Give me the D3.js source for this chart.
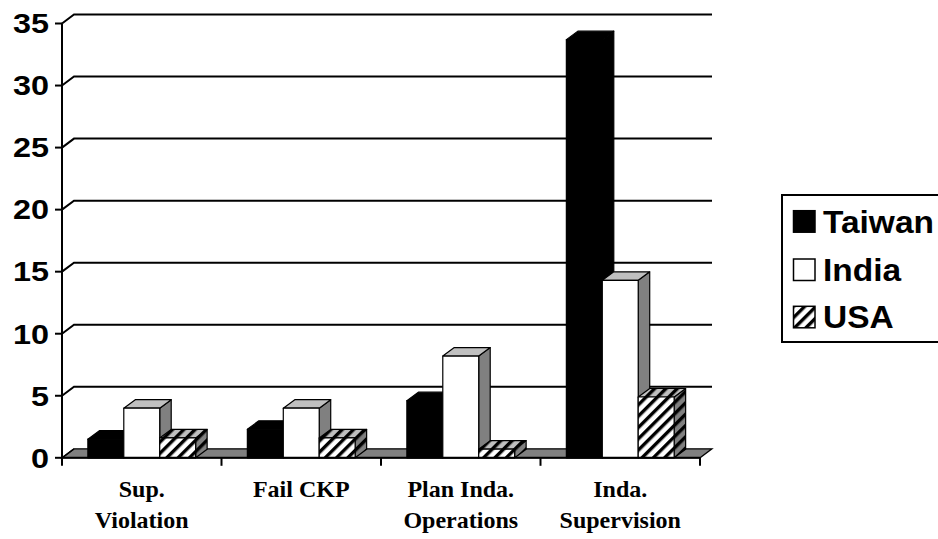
<!DOCTYPE html>
<html><head><meta charset="utf-8">
<script src="https://cdn.jsdelivr.net/npm/d3@7"></script>
<style>body{margin:0;background:#fff}svg{display:block}</style>
</head><body>
<script>
// ---- data ----
const categories = ["Sup.\nViolation", "Fail CKP", "Plan Inda.\nOperations", "Inda.\nSupervision"];
const series = ["Taiwan", "India", "USA"];
const taiwan = [1.5, 2.3, 4.6, 33.7];
const india  = [4.0, 4.0, 8.2, 14.3];
const usa    = [1.6, 1.6, 0.7, 4.9];
const yTicks = [0, 5, 10, 15, 20, 25, 30, 35];

const values = {Taiwan: taiwan, India: india, USA: usa};

const W = 938, H = 539;
const svg = d3.select("body").append("svg").attr("width", W).attr("height", H);

const defs = svg.append("defs");
function hatch(id, bg) {
  const p = defs.append("pattern").attr("id", id).attr("patternUnits", "userSpaceOnUse")
    .attr("width", 8).attr("height", 8).attr("patternTransform", "rotate(45)");
  p.append("rect").attr("width", 8).attr("height", 8).attr("fill", bg);
  p.append("rect").attr("x", 0).attr("width", 3.4).attr("height", 8).attr("fill", "#000");
}
hatch("hFront", "#fff");
hatch("hTop", "#c0c0c0");
hatch("hSide", "#808080");

const faces = {
  Taiwan: {front: "#000", top: "#000", side: "#000"},
  India: {front: "#fff", top: "#c0c0c0", side: "#808080"},
  USA: {front: "url(#hFront)", top: "url(#hTop)", side: "url(#hSide)"}
};

const x0 = d3.scaleBand().domain(categories).range([62, 700]).paddingInner(0).paddingOuter(0);
const x1 = d3.scaleBand().domain(series).range([0, x0.bandwidth()]).paddingInner(0).paddingOuter(0.72);
const y = d3.scaleLinear().domain([0, 35]).range([457.8, 23.5]);

const wdx = 12, wdy = -9;   // wall depth
const bdx = 11.5, bdy = -8.5; // bar depth

// floor
const fl = [[62, y(0)], [700, y(0)], [700 + wdx, y(0) + wdy], [62 + wdx, y(0) + wdy]];
svg.append("polygon").attr("points", fl.map(p => p.join(",")).join(" "))
  .attr("fill", "#808080").attr("stroke", "#000").attr("stroke-width", 1.2);

// gridlines (back wall) with diagonal on side
const grid = svg.append("g");
yTicks.filter(t => t > 0).forEach(t => {
  grid.append("polyline")
    .attr("points", `62,${y(t)} ${62 + wdx},${y(t) + wdy} ${700 + wdx},${y(t) + wdy}`)
    .attr("fill", "none").attr("stroke", "#000").attr("stroke-width", 2);
});
grid.append("line").attr("x1", 62).attr("y1", y(0)).attr("x2", 62 + wdx).attr("y2", y(0) + wdy)
  .attr("stroke", "#000").attr("stroke-width", 1.5);

// bars
const bars = svg.append("g");
categories.forEach((c, ci) => {
  series.forEach(s => {
    const v = values[s][ci];
    const xl = x0(c) + x1(s), xr = xl + x1.bandwidth();
    const yt = y(v), yb = y(0);
    const f = faces[s];
    const g = bars.append("g").attr("stroke", "#000").attr("stroke-width", 1.2).attr("stroke-linejoin", "round");
    g.append("polygon").attr("points",
      [[xr, yb], [xr + bdx, yb + bdy], [xr + bdx, yt + bdy], [xr, yt]].map(p => p.join(",")).join(" "))
      .attr("fill", f.side);
    g.append("polygon").attr("points",
      [[xl, yt], [xl + bdx, yt + bdy], [xr + bdx, yt + bdy], [xr, yt]].map(p => p.join(",")).join(" "))
      .attr("fill", f.top);
    g.append("rect").attr("x", xl).attr("y", yt).attr("width", xr - xl).attr("height", yb - yt)
      .attr("fill", f.front);
  });
});

// axes
svg.append("line").attr("x1", 62).attr("y1", y(35)).attr("x2", 62).attr("y2", y(0))
  .attr("stroke", "#000").attr("stroke-width", 2);
svg.append("line").attr("x1", 62).attr("y1", y(0)).attr("x2", 700).attr("y2", y(0))
  .attr("stroke", "#000").attr("stroke-width", 2);
yTicks.forEach(t => {
  svg.append("line").attr("x1", 55).attr("x2", 62).attr("y1", y(t)).attr("y2", y(t))
    .attr("stroke", "#000").attr("stroke-width", 2);
  svg.append("text").attr("transform", `translate(49,${y(t) + 9.8}) scale(1.2,1)`)
    .attr("text-anchor", "end").attr("font-family", "Liberation Sans, Arial, sans-serif")
    .attr("font-weight", "bold").attr("font-size", 27).text(t);
});
const bounds = categories.map(c => x0(c)).concat([700]);
bounds.forEach(b => {
  svg.append("line").attr("x1", b).attr("x2", b).attr("y1", y(0)).attr("y2", y(0) + 8)
    .attr("stroke", "#000").attr("stroke-width", 2);
});
categories.forEach(c => {
  const lines = c.split("\n");
  const t = svg.append("text").attr("text-anchor", "middle")
    .attr("font-family", "Liberation Serif, 'Times New Roman', serif").attr("font-weight", "bold")
    .attr("font-size", 24);
  lines.forEach((l, i) => {
    t.append("tspan").attr("x", x0(c) + x0.bandwidth() / 2).attr("y", 497 + i * 31.3).text(l);
  });
});

// legend
const lg = svg.append("g");
lg.append("rect").attr("x", 782).attr("y", 195).attr("width", 170).attr("height", 147)
  .attr("fill", "#fff").attr("stroke", "#000").attr("stroke-width", 2);
const legY = [232.7, 281, 328.3];
const legFill = {Taiwan: "#000", India: "#fff", USA: "url(#hFront)"};
series.forEach((s, i) => {
  lg.append("rect").attr("x", 793.5).attr("y", legY[i] - 22).attr("width", 21.5).attr("height", 21.5)
    .attr("fill", legFill[s]).attr("stroke", "#000").attr("stroke-width", 1.5);
  lg.append("text").attr("transform", `translate(823,${legY[i]}) scale(1.08,1)`)
    .attr("font-family", "Liberation Sans, Arial, sans-serif").attr("font-weight", "bold")
    .attr("font-size", 31).text(s);
});
</script>
</body></html>
